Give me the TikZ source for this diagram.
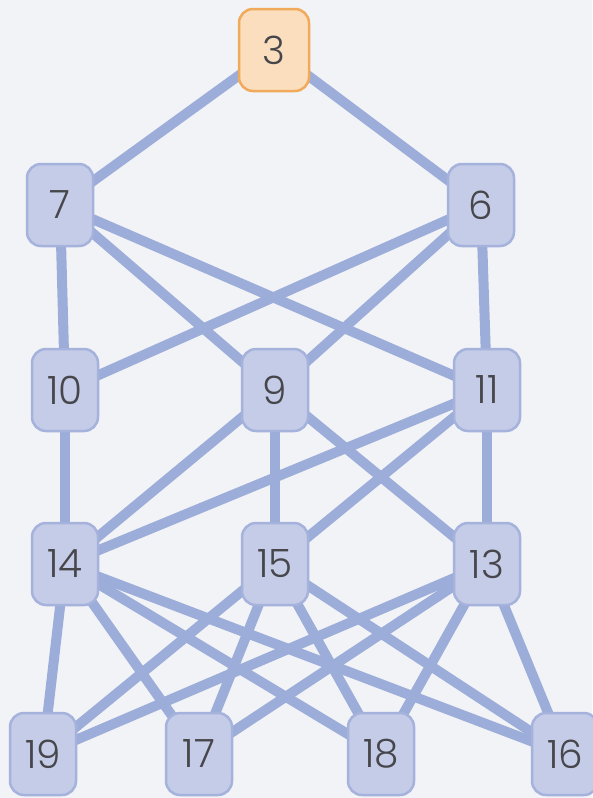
\documentclass[tikz,border=0pt]{standalone}
\usepackage{fontspec}
\setmainfont{Poppins Light}
\usetikzlibrary{backgrounds}
\definecolor{edgecol}{RGB}{155,173,216}
\definecolor{nodefill}{RGB}{196,204,232}
\definecolor{nodeborder}{RGB}{165,178,220}
\definecolor{orfill}{RGB}{250,222,190}
\definecolor{orborder}{RGB}{240,170,90}
\definecolor{bgcol}{RGB}{242,243,247}
\definecolor{txt}{RGB}{70,70,75}
\begin{document}
\begin{tikzpicture}[x=1pt,y=-1pt,
  num/.style={draw=nodeborder, fill=nodefill, line width=2.5pt, rounded corners=14pt,
    minimum width=66pt, minimum height=82pt, inner sep=0pt, font=\fontsize{39}{39}\selectfont, text=txt},
  top/.style={num, draw=orborder, fill=orfill, minimum width=70pt},
  edge/.style={draw=edgecol, line width=10pt}]
\useasboundingbox (0,0) rectangle (592,798);
\node[top] (n3) at (274,50) {3};
\node[num] (n7) at (60,205) {7};
\node[num] (n6) at (481,205) {6};
\node[num] (n10) at (65,390) {10};
\node[num] (n9) at (275,390) {9};
\node[num] (n11) at (487,390) {11};
\node[num] (n14) at (65,564) {14};
\node[num] (n15) at (275,564) {15};
\node[num] (n13) at (487,564) {13};
\node[num] (n19) at (43,754) {19};
\node[num] (n17) at (199,754) {17};
\node[num] (n18) at (381,754) {18};
\node[num] (n16) at (565,754) {16};
\begin{scope}[on background layer]
\fill[bgcol] (0,0) rectangle (592,798);
\foreach \a/\b in {n3/n7,n3/n6,n7/n10,n7/n9,n7/n11,n6/n10,n6/n9,n6/n11,
  n10/n14,n9/n14,n9/n15,n9/n13,n11/n14,n11/n15,n11/n13,
  n14/n19,n14/n17,n14/n18,n14/n16,n15/n19,n15/n17,n15/n18,n15/n16,
  n13/n19,n13/n17,n13/n18,n13/n16}
  \draw[edge] (\a.center) -- (\b.center);
\end{scope}
\end{tikzpicture}
\end{document}
